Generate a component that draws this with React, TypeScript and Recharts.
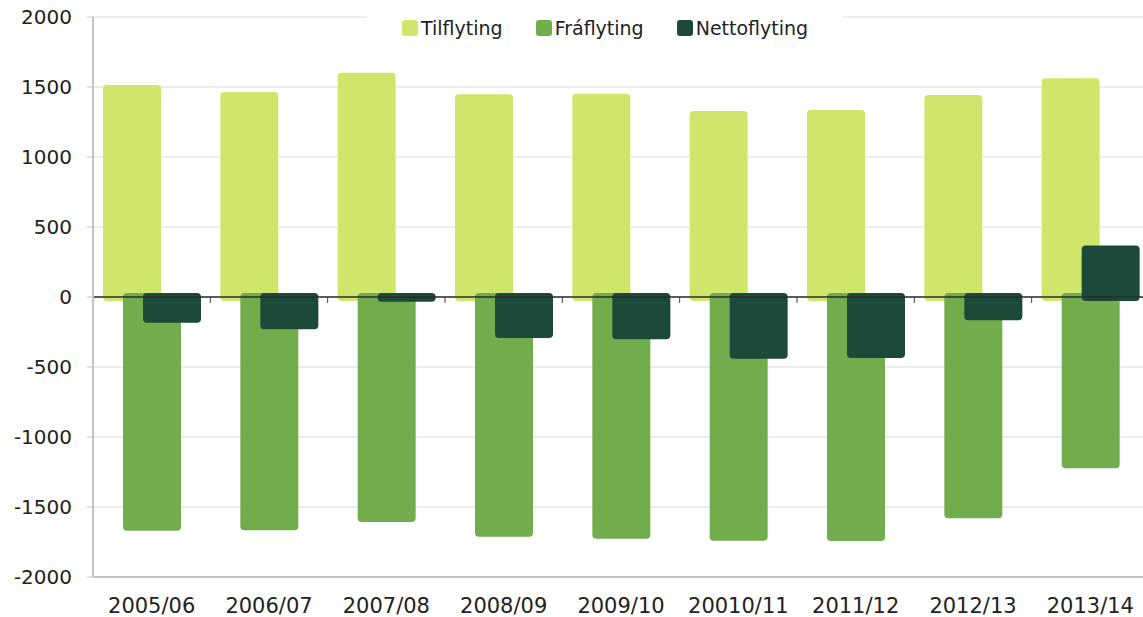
import { BarChart, Bar, CartesianGrid, XAxis, YAxis, Legend, ReferenceLine } from "recharts"

const periods = [
  "2005/06",
  "2006/07",
  "2007/08",
  "2008/09",
  "2009/10",
  "20010/11",
  "2011/12",
  "2012/13",
  "2013/14",
]
const tilflyting = [1486, 1436, 1573, 1419, 1424, 1300, 1307, 1414, 1534]
const fraflyting = [-1641, -1638, -1579, -1684, -1698, -1712, -1714, -1552, -1195]
const nettoflyting = [-155, -202, -6, -265, -274, -412, -407, -138, 339]
const yTicks = [-2000, -1500, -1000, -500, 0, 500, 1000, 1500, 2000]

const series = [
  { key: "til", name: "Tilflyting", color: "#d0e56c" },
  { key: "fra", name: "Fráflyting", color: "#71ad4c" },
  { key: "netto", name: "Nettoflyting", color: "#1c4a39" },
]

const data = periods.map((period, i) => ({
  period,
  til: tilflyting[i],
  fra: fraflyting[i],
  netto: nettoflyting[i],
}))

const FONT = '"DejaVu Sans", Verdana, sans-serif'

// excel-ish bars: soft rounded and slightly bigger than the value
function RoundBar(props: any) {
  const { x, y, width, height, fill } = props
  if (width == null || height == null) return null
  const top = Math.min(y, y + height)
  const h = Math.abs(height)
  return <rect x={x - 4} y={top - 4} width={width + 8} height={h + 8} rx={4} ry={4} fill={fill} />
}

// zero line with ticks between categories
function ZeroLine(props: any) {
  const { x1, x2, y1 } = props
  const step = (x2 - x1) / periods.length
  return (
    <g>
      <line x1={x1} x2={x2} y1={y1} y2={y1} stroke="#2b2b2b" strokeWidth={1.5} />
      {periods.map((p, i) => (
        <line key={p} x1={x1 + i * step} x2={x1 + i * step} y1={y1} y2={y1 + 6} stroke="#444" strokeWidth={1} />
      ))}
    </g>
  )
}

function LegendBox() {
  return (
    <div
      style={{
        display: "flex",
        alignItems: "center",
        background: "#fff",
        paddingLeft: 35,
        height: 34,
        gap: 33,
        fontFamily: FONT,
        fontSize: 19,
        color: "#222",
      }}
    >
      {series.map((s) => (
        <div key={s.key} style={{ display: "flex", alignItems: "center" }}>
          <span
            style={{
              width: 16,
              height: 16,
              borderRadius: 3,
              background: s.color,
              marginRight: 3,
              display: "inline-block",
            }}
          />
          <span>{s.name}</span>
        </div>
      ))}
    </div>
  )
}

export default function App() {
  // the original picture is cut a few px before the plot ends
  return (
    <div style={{ position: "absolute", left: 0, top: 0, width: 1143, height: 617, overflow: "hidden", background: "#fff" }}>
      <BarChart
        width={1149}
        height={617}
        data={data}
        margin={{ top: 17, right: 0, bottom: 0, left: 0 }}
        barSize={50}
        barGap={-30}
      >
        <CartesianGrid vertical={false} stroke="#d9d9d9" />
        <XAxis
          dataKey="period"
          interval={0}
          tickLine={false}
          tickSize={0}
          tickMargin={21}
          height={40}
          axisLine={{ stroke: "#c4c4c4", strokeWidth: 2 }}
          tick={{ fontSize: 21, fill: "#222", fontFamily: FONT }}
        />
        <YAxis
          type="number"
          domain={[-2000, 2000]}
          ticks={yTicks}
          width={93}
          tickSize={6}
          tickMargin={15}
          axisLine={{ stroke: "#c4c4c4", strokeWidth: 2 }}
          tickLine={{ stroke: "#c4c4c4" }}
          tick={{ fontSize: 20, fill: "#222", fontFamily: FONT }}
        />
        <Legend
          layout="horizontal"
          verticalAlign="middle"
          content={<LegendBox />}
          wrapperStyle={{ left: 367, top: 11, width: 476, height: 34 }}
        />
        {series.map((s) => (
          <Bar
            key={s.key}
            dataKey={s.key}
            name={s.name}
            fill={s.color}
            shape={<RoundBar />}
            isAnimationActive={false}
          />
        ))}
        <ReferenceLine y={0} shape={<ZeroLine />} />
      </BarChart>
    </div>
  )
}
